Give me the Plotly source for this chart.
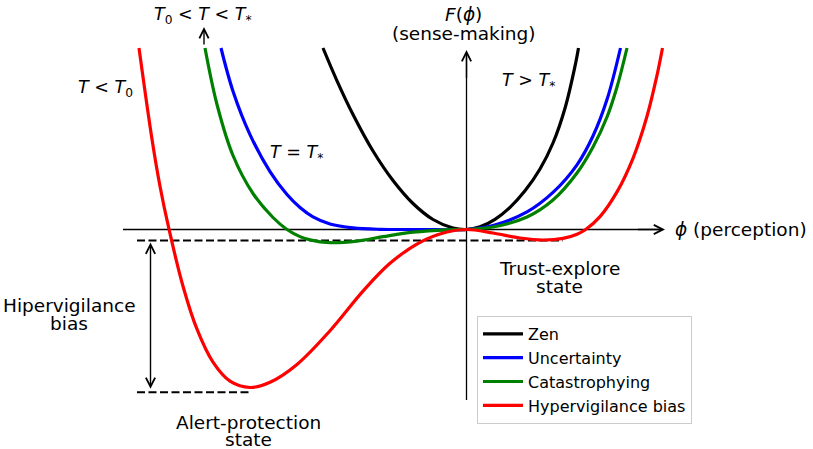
import plotly.graph_objects as go

# ---- data (phi, F) ----
zen_phi = [-1.435, -1.295, -1.135, -0.935, -0.735, -0.535, -0.335, -0.135, 0,
           0.135, 0.285, 0.435, 0.585, 0.735, 0.865, 0.985, 1.085, 1.12]
zen_F = [1.815, 1.487, 1.15, 0.785, 0.49, 0.26, 0.10, 0.015, 0,
         0.027, 0.102, 0.222, 0.387, 0.605, 0.865, 1.213, 1.633, 1.815]

unc_phi = [-2.455, -2.335, -2.165, -1.965, -1.795, -1.665, -1.535, -1.365, -1.135, -0.865, -0.465, 0,
           0.265, 0.605, 0.865, 1.105, 1.265, 1.405, 1.54]
unc_F = [1.815, 1.383, 0.949, 0.579, 0.35, 0.22, 0.126, 0.055, 0.016, 0.002, 0, 0,
         0.04, 0.176, 0.371, 0.647, 0.935, 1.299, 1.815]

cat_phi = [-2.615, -2.495, -2.335, -2.135, -1.935, -1.795, -1.665, -1.565, -1.365, -1.095, -0.835, -0.535, -0.195, 0,
           0.265, 0.605, 0.865, 1.105, 1.265, 1.405, 1.505, 1.605]
cat_F = [1.815, 1.25, 0.74, 0.36, 0.12, 0.0, -0.071, -0.104, -0.132, -0.116, -0.072, -0.027, -0.003, 0,
         0.025, 0.125, 0.295, 0.565, 0.825, 1.125, 1.425, 1.815]

hyp_phi = [-3.275, -3.145, -3.065, -2.975, -2.835, -2.695, -2.535, -2.365, -2.165, -1.965, -1.695, -1.365,
           -1.035, -0.765, -0.465, -0.195, 0,
           0.265, 0.535, 0.765, 0.965, 1.105, 1.195, 1.335, 1.505, 1.665, 1.805, 1.905, 1.96]
hyp_F = [1.815, 0.903, 0.433, 0.003, -0.567, -0.997, -1.327, -1.517, -1.58, -1.527, -1.349, -1.012,
         -0.616, -0.338, -0.128, -0.025, 0,
         -0.035, -0.085, -0.105, -0.089, -0.047, 0.003, 0.129, 0.376, 0.712, 1.132, 1.542, 1.815]

series_names = ["Zen", "Uncertainty", "Catastrophying", "Hypervigilance bias"]
series_colors = ["#000000", "#0000ff", "#008000", "#ff0000"]

# reference levels
trust_level = -0.11      # local minimum on the right (trust-explore)
alert_level = -1.628     # deep minimum on the left (alert-protection)

FONT = "DejaVu Sans"
FS = 18.5
FSM = 17.5

fig = go.Figure()
for phi, F, name, col in zip([zen_phi, unc_phi, cat_phi, hyp_phi], [zen_F, unc_F, cat_F, hyp_F],
                             series_names, series_colors):
    fig.add_trace(go.Scatter(x=phi, y=F, mode="lines", name=name,
                             line=dict(color=col, width=3.2, shape="spline", smoothing=1.0)))

shapes = [
    # axes lines
    dict(type="line", x0=-3.435, x1=1.96, y0=0, y1=0, line=dict(color="black", width=1.3), layer="below"),
    dict(type="line", x0=0, x1=0, y0=-1.705, y1=1.77, line=dict(color="black", width=1.3), layer="below"),
    # dashed reference lines
    dict(type="line", x0=-3.295, x1=0.965, y0=trust_level, y1=trust_level,
         line=dict(color="black", width=2, dash="8px,3.5px"), layer="below"),
    dict(type="line", x0=-3.295, x1=-2.145, y0=alert_level, y1=alert_level,
         line=dict(color="black", width=2, dash="8px,3.5px"), layer="below"),
]

def arrow(x, y, ax, ay, side="end"):
    return dict(x=x, y=y, ax=ax, ay=ay, xref="x", yref="y", axref="x", ayref="y",
                text="", showarrow=True, arrowhead=5, startarrowhead=5, arrowside=side,
                arrowwidth=1.4, arrowsize=1.3, startarrowsize=1.3, standoff=0, startstandoff=0,
                arrowcolor="black")

def label(x, y, text, xanchor="center", size=FS):
    return dict(x=x, y=y, xref="x", yref="y", text=text, showarrow=False,
                xanchor=xanchor, yanchor="middle", font=dict(family=FONT, size=size, color="black"))

annotations = [
    arrow(1.985, 0, 1.70, 0),
    arrow(0, 1.795, 0, 1.50),
    arrow(-2.625, 2.025, -2.625, 1.835),
    arrow(-3.16, trust_level - 0.02, -3.16, alert_level + 0.02, side="end+start"),
    label(-0.03, 2.155, "<i>F</i>(<i>ϕ</i>)"),
    label(-0.03, 1.965, "(sense-making)"),
    label(0.335, 1.485, "<i>T</i> > <i>T</i><sub>*</sub>", "left", FSM),
    label(-1.985, 0.765, "<i>T</i> = <i>T</i><sub>*</sub>", "left", FSM),
    label(-3.145, 2.145, "<i>T</i><sub>0</sub> < <i>T</i> < <i>T</i><sub>*</sub>", "left", FSM),
    label(-3.905, 1.415, "<i>T</i> < <i>T</i><sub>0</sub>", "left", FSM),
    label(-3.975, -0.755, "Hipervigilance"),
    label(-3.975, -0.935, "bias"),
    label(-2.185, -1.925, "Alert-protection"),
    label(-2.185, -2.095, "state"),
    label(0.925, -0.385, "Trust-explore"),
    label(0.925, -0.565, "state"),
    label(2.065, 0.005, "<i>ϕ</i> (perception)", "left"),
]

fig.update_layout(
    width=813, height=449,
    margin=dict(l=0, r=0, t=0, b=0),
    paper_bgcolor="white", plot_bgcolor="white",
    xaxis=dict(range=[-4.665, 3.465], visible=False, fixedrange=True),
    yaxis=dict(range=[-2.195, 2.295], visible=False, fixedrange=True),
    shapes=shapes, annotations=annotations,
    showlegend=True,
    legend=dict(x=477 / 813, y=1 - 316 / 449, xanchor="left", yanchor="top",
                bgcolor="white", bordercolor="#cccccc", borderwidth=1, itemwidth=40,
                font=dict(family=FONT, size=16, color="black")),
    font=dict(family=FONT),
)

fig.write_html("out.html", config={"displayModeBar": False},
               post_script="document.body.style.margin='0px';")
